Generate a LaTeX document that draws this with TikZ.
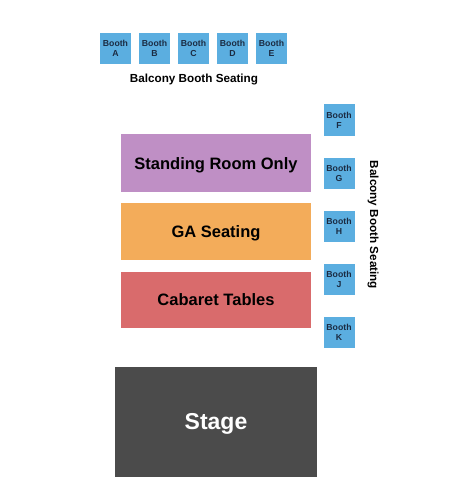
\documentclass[tikz,border=0pt]{standalone}
\usepackage{fontspec}
\setmainfont{Liberation Sans}
\definecolor{boothc}{HTML}{5BAEE0}
\definecolor{boothtxt}{HTML}{1B2B42}
\definecolor{sroc}{HTML}{BF8FC5}
\definecolor{gac}{HTML}{F3AC5A}
\definecolor{cabc}{HTML}{D96B6C}
\definecolor{stagec}{HTML}{4B4B4B}
\newcommand\mybooth[4]{%
  \node[booth] (b#1) at (#2,#3) {};
  \node[bt] (b#1t) at ([yshift=1.8pt]b#1.center) {Booth};
  \node[bt] (b#1l) at ([yshift=-8.2pt]b#1.center) {#4};}
\begin{document}
\begin{tikzpicture}[x=1pt,y=-1pt,
  booth/.style={fill=boothc,draw=none,minimum width=31pt,minimum height=31pt,inner sep=0pt},
  bt/.style={anchor=base,inner sep=0pt,font=\fontsize{8.7}{11}\selectfont\bfseries,text=boothtxt},
  section/.style={draw=none,inner sep=0pt},
  sectxt/.style={anchor=base,inner sep=0pt,font=\fontsize{16.5}{19}\selectfont\bfseries,text=black},
  lbl/.style={font=\fontsize{11.7}{14}\selectfont\bfseries,text=black,inner sep=0pt}]
\useasboundingbox (0,0) rectangle (450,500);
% top booths
\mybooth{A}{115.5}{48.5}{A}
\mybooth{B}{154.5}{48.5}{B}
\mybooth{C}{193.5}{48.5}{C}
\mybooth{D}{232.5}{48.5}{D}
\mybooth{E}{271.5}{48.5}{E}
\node[lbl,anchor=base] (topl) at (194,82.5) {Balcony Booth Seating};
% side booths
\mybooth{F}{339}{120}{F}
\mybooth{G}{339}{173}{G}
\mybooth{H}{339}{226.5}{H}
\mybooth{J}{339}{279}{J}
\mybooth{K}{339}{332}{K}
\node[lbl,rotate=-90] (sidel) at (373,225) {Balcony Booth Seating};
% sections
\node[section,fill=sroc,minimum width=190pt,minimum height=58pt] (sro) at (216,163) {};
\node[sectxt] (srot) at (216,169) {Standing Room Only};
\node[section,fill=gac,minimum width=190pt,minimum height=57pt] (ga) at (216,231.5) {};
\node[sectxt] (gat) at (216,237.5) {GA Seating};
\node[section,fill=cabc,minimum width=190pt,minimum height=56pt] (cab) at (216,300) {};
\node[sectxt] (cabt) at (216,305.5) {Cabaret Tables};
\node[section,fill=stagec,minimum width=202pt,minimum height=110pt] (stage) at (216,422) {};
\node[anchor=base,inner sep=0pt,font=\fontsize{23}{27}\selectfont\bfseries,text=white] (staget) at (216,429) {Stage};
\end{tikzpicture}
\end{document}
